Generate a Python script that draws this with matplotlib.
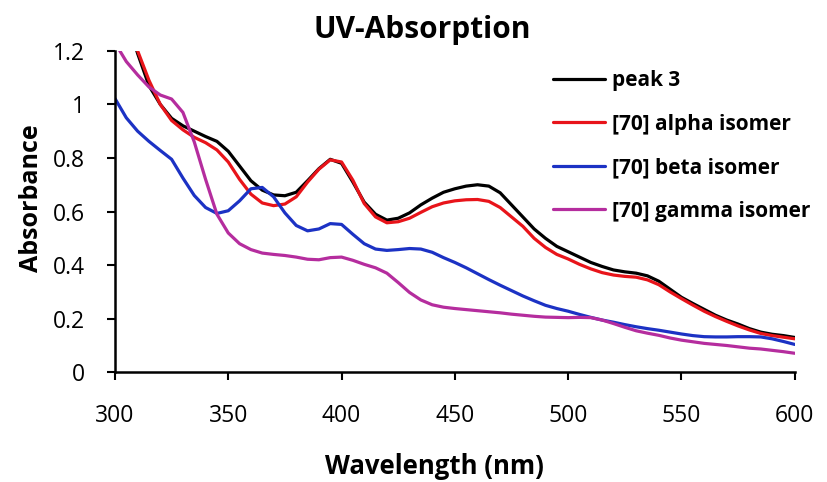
import matplotlib
matplotlib.use("Agg")
import matplotlib.pyplot as plt

plt.rcParams['font.family'] = ['Open Sans', 'DejaVu Sans']

wavelength = list(range(300, 605, 5))

peak3 = [1.45, 1.33, 1.19, 1.07, 1.00, 0.948, 0.92, 0.90, 0.88, 0.862,
         0.825, 0.77, 0.715, 0.68, 0.662, 0.659, 0.672, 0.715, 0.76, 0.795,
         0.78, 0.71, 0.635, 0.59, 0.568, 0.575, 0.595, 0.625, 0.65, 0.672,
         0.685, 0.695, 0.70, 0.695, 0.67, 0.625, 0.58, 0.535, 0.50, 0.47,
         0.45, 0.43, 0.41, 0.395, 0.382, 0.375, 0.37, 0.36, 0.34, 0.31,
         0.28, 0.257, 0.235, 0.213, 0.195, 0.18, 0.163, 0.15, 0.142, 0.137,
         0.13]

alpha = [1.45, 1.34, 1.20, 1.09, 1.00, 0.94, 0.905, 0.877, 0.857, 0.83,
         0.785, 0.72, 0.665, 0.632, 0.622, 0.628, 0.655, 0.71, 0.758, 0.793,
         0.785, 0.717, 0.63, 0.58, 0.558, 0.562, 0.575, 0.597, 0.618, 0.632,
         0.64, 0.644, 0.645, 0.638, 0.615, 0.58, 0.545, 0.50, 0.466, 0.44,
         0.423, 0.403, 0.386, 0.372, 0.363, 0.358, 0.355, 0.345, 0.327, 0.30,
         0.275, 0.251, 0.228, 0.208, 0.19, 0.173, 0.158, 0.145, 0.137, 0.131,
         0.125]

beta = [1.022, 0.95, 0.90, 0.862, 0.828, 0.795, 0.725, 0.66, 0.615, 0.593,
        0.603, 0.64, 0.685, 0.69, 0.655, 0.595, 0.548, 0.528, 0.535, 0.555,
        0.552, 0.515, 0.48, 0.46, 0.455, 0.458, 0.462, 0.46, 0.448, 0.428,
        0.41, 0.39, 0.368, 0.346, 0.325, 0.305, 0.285, 0.267, 0.25, 0.238,
        0.228, 0.216, 0.205, 0.195, 0.187, 0.178, 0.17, 0.163, 0.157, 0.15,
        0.143, 0.137, 0.133, 0.132, 0.132, 0.133, 0.133, 0.132, 0.125, 0.115,
        0.104]

gamma = [1.23, 1.16, 1.11, 1.065, 1.035, 1.02, 0.97, 0.86, 0.72, 0.59,
         0.52, 0.48, 0.458, 0.445, 0.44, 0.436, 0.43, 0.422, 0.42, 0.428,
         0.43, 0.418, 0.403, 0.39, 0.37, 0.335, 0.298, 0.27, 0.252, 0.243,
         0.238, 0.234, 0.23, 0.226, 0.222, 0.217, 0.213, 0.209, 0.206, 0.205,
         0.204, 0.205, 0.204, 0.195, 0.182, 0.168, 0.155, 0.146, 0.138, 0.128,
         0.12, 0.114, 0.108, 0.104, 0.10, 0.095, 0.09, 0.087, 0.082, 0.077,
         0.071]

labels = ["peak 3", "[70] alpha isomer", "[70] beta isomer", "[70] gamma isomer"]
colors = ["#000000", "#e8141a", "#1c32c4", "#b52d9e"]
x_ticks = [300, 350, 400, 450, 500, 550, 600]
y_ticks = [0, 0.2, 0.4, 0.6, 0.8, 1.0, 1.2]
y_tick_labels = ["0", "0.2", "0.4", "0.6", "0.8", "1", "1.2"]

fig = plt.figure(figsize=(8.27, 4.82), dpi=100)
ax = fig.add_axes([0.139, 0.2276, 0.822, 0.667])

for series, lab, col in zip([peak3, alpha, beta, gamma], labels, colors):
    ax.plot(wavelength, series, color=col, lw=2.3, label=lab,
            solid_capstyle='round', solid_joinstyle='round')

ax.set_xlim(300, 600)
ax.set_ylim(0, 1.2)
ax.set_xticks(x_ticks)
ax.set_yticks(y_ticks)
ax.set_yticklabels(y_tick_labels)
ax.tick_params(axis='both', labelsize=16.5, length=5.5, width=1.5, direction='out')
ax.tick_params(axis='y', pad=16)
ax.tick_params(axis='x', pad=17)
for s in ['top', 'right']:
    ax.spines[s].set_visible(False)
for s in ['left', 'bottom']:
    ax.spines[s].set_linewidth(1.8)

ax.set_xlabel("Wavelength (nm)", fontsize=18.5, fontweight='bold')
ax.xaxis.set_label_coords(0.47, -0.25)
ax.set_ylabel("Absorbance", fontsize=18, fontweight='bold')
ax.yaxis.set_label_coords(-0.105, 0.542)
fig.suptitle("UV-Absorption", fontsize=21.5, fontweight='bold', x=0.511, y=0.969)

leg = ax.legend(loc='upper left', bbox_to_anchor=(0.644, 0.94), frameon=False,
                handlelength=2.5, handletextpad=0.35, labelspacing=1.08,
                borderpad=0, borderaxespad=0,
                prop={'weight': 'bold', 'size': 15})

fig.savefig("out.png", dpi=100)
